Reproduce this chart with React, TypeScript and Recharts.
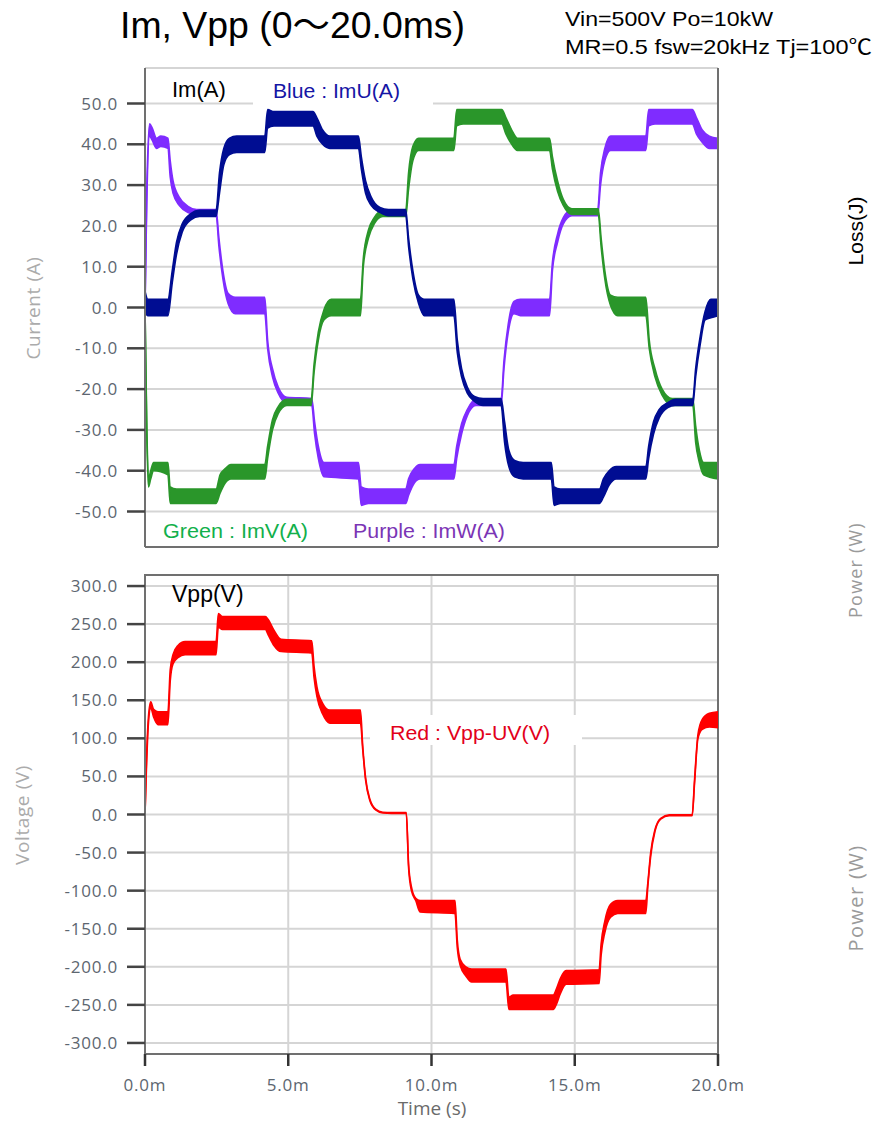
import {
  ComposedChart, Area, XAxis, YAxis, CartesianGrid, ReferenceLine, ReferenceArea,
} from 'recharts'

// each point: [time (ms), band low, band high] — the PWM ripple is drawn as a band
type Pt = [number, number, number]

const timeTicks = [0, 5, 10, 15, 20]
const currentTicks = [-50, -40, -30, -20, -10, 0, 10, 20, 30, 40, 50]
const voltageTicks = [-300, -250, -200, -150, -100, -50, 0, 50, 100, 150, 200, 250, 300]

// Blue : ImU(A)
const imU: Pt[] = [
  [0, -1, 4], [0.1, -2, 2], [0.8, -2, 2], [0.95, 6, 9], [1.1, 13, 16], [1.3, 18.5, 20.5],
  [1.6, 21.5, 23], [1.9, 22.3, 23.8], [2.48, 22.3, 23.8], [2.6, 28, 33], [2.75, 35, 39],
  [2.95, 37.5, 41.5], [3.2, 38, 42], [4.18, 38, 42], [4.28, 44, 48.5], [4.5, 44.5, 48],
  [5.86, 44.5, 48], [6.0, 42, 46.5], [6.2, 40, 43.5], [6.45, 39, 42], [7.45, 39, 42],
  [7.55, 34, 37], [7.7, 28, 31], [7.9, 25, 27], [8.2, 23.3, 24.5], [8.5, 22.5, 24],
  [9.1, 22.5, 24], [9.2, 15, 17], [9.35, 7, 9], [9.55, 1, 3], [9.75, -2, 2], [10.78, -2, 2],
  [10.9, -11, -8], [11.05, -17, -15], [11.25, -21, -19.5], [11.5, -23, -21.8],
  [11.8, -24, -22.3], [12.43, -24, -22.3], [12.55, -33, -28], [12.7, -39, -35],
  [12.9, -41.5, -37.5], [13.2, -42, -38], [14.18, -42, -38], [14.28, -48.5, -44],
  [14.5, -48, -44.5], [15.86, -48, -44.5], [16.0, -46.5, -42], [16.2, -43.5, -40],
  [16.45, -42, -39], [17.48, -42, -39], [17.58, -37, -34], [17.75, -31, -28],
  [17.95, -27, -25], [18.25, -24.5, -23.3], [18.5, -24, -22.5], [19.12, -24, -22.5],
  [19.22, -17, -15], [19.38, -9, -7], [19.55, -3, -1], [19.75, -2.5, 2], [20, -2, 2],
]

// Green : ImV(A)
const imV: Pt[] = [
  [0, 0, 0], [0.06, -30, -28], [0.12, -44, -42], [0.2, -42, -40], [0.3, -40, -38],
  [0.8, -41, -38], [0.88, -48, -44], [1.1, -48, -44.5], [2.48, -48, -44.5],
  [2.62, -45.5, -41], [2.8, -43, -39.5], [3.0, -42, -38.5], [4.18, -42, -38.5],
  [4.28, -37, -34], [4.45, -30, -27.5], [4.65, -26, -24.3], [4.95, -24, -22.5],
  [5.8, -24, -22.5], [5.9, -16, -14], [6.05, -8, -6], [6.25, -3, -0.5], [6.5, -2, 2],
  [7.52, -2, 2], [7.62, 10, 12], [7.8, 17, 19], [8.0, 20.5, 22], [8.3, 22.3, 23.8],
  [9.1, 22.3, 23.8], [9.2, 29, 33], [9.35, 36, 39.5], [9.55, 38.5, 41.5],
  [10.78, 38.5, 41.5], [10.88, 44.5, 48.5], [11.1, 45, 48.5], [12.45, 45, 48.5],
  [12.6, 42.5, 46.5], [12.8, 40, 43.5], [13.0, 38.5, 41.5], [14.12, 38.5, 41.5],
  [14.22, 34, 37], [14.4, 28.5, 31], [14.6, 25, 26.5], [14.9, 22.8, 24.2],
  [15.82, 22.8, 24.2], [15.92, 15, 17], [16.05, 7, 9], [16.25, 0.5, 3], [16.5, -2, 2.5],
  [17.48, -2, 2.5], [17.6, -10, -8], [17.8, -17, -15], [18.05, -21.5, -20],
  [18.4, -24, -22.3], [19.12, -24, -22.3], [19.22, -33, -29], [19.35, -38, -35],
  [19.5, -41, -38], [20, -42, -38],
]

// Purple : ImW(A)
const imW: Pt[] = [
  [0, 0, 0], [0.06, 25, 28], [0.16, 42, 45], [0.25, 41, 44], [0.4, 39, 41.5],
  [0.55, 39.5, 42], [0.8, 39, 41.5], [0.88, 32, 36], [0.98, 28, 31], [1.2, 25, 27],
  [1.5, 23.3, 24.8], [1.8, 22.8, 24], [2.48, 22.8, 24], [2.58, 15, 17], [2.72, 7, 9],
  [2.9, 1, 3.5], [3.15, -1.5, 2.5], [4.18, -1.5, 2.5], [4.28, -10, -8], [4.45, -17, -15],
  [4.65, -21, -19.5], [4.95, -23.5, -22], [5.82, -24, -22.3], [5.92, -31, -28],
  [6.05, -37, -34], [6.25, -41.5, -38], [7.45, -42, -38], [7.55, -48.5, -44],
  [7.8, -48, -44.5], [9.1, -48, -44.5], [9.2, -46, -42], [9.4, -43, -39.5],
  [9.6, -42, -38.5], [10.78, -42, -38.5], [10.88, -37, -34], [11.05, -31, -28.5],
  [11.25, -26.5, -25], [11.55, -24, -22.5], [12.43, -24, -22.5], [12.53, -15, -13],
  [12.68, -6, -4], [12.88, -1.5, 1.5], [13.1, -2, 2], [14.12, -2, 2], [14.22, 9, 11],
  [14.4, 16, 18], [14.6, 20.5, 22], [14.9, 22.5, 24], [15.8, 22.5, 24], [15.9, 30, 33],
  [16.05, 36, 39], [16.25, 38.5, 42], [17.48, 38.5, 42], [17.58, 44.5, 48.5],
  [17.8, 45, 48.5], [19.1, 45, 48.5], [19.25, 42.5, 46.5], [19.45, 40.5, 43.5],
  [19.7, 39, 42], [20, 39, 41.5],
]

// Red : Vpp-UV(V)
const vppUV: Pt[] = [
  [0, 0, 0], [0.05, 60, 70], [0.12, 120, 128], [0.2, 140, 148], [0.3, 128, 138],
  [0.45, 118, 135], [0.8, 118, 135], [0.88, 175, 190], [0.98, 198, 210], [1.15, 206, 222],
  [1.4, 210, 227], [2.48, 210, 227], [2.56, 246, 264], [2.7, 243, 260], [4.2, 243, 260],
  [4.3, 236, 256], [4.5, 222, 242], [4.75, 214, 230], [5.82, 212, 228], [5.9, 180, 195],
  [6.0, 155, 168], [6.2, 132, 146], [6.45, 120, 137], [7.52, 120, 137], [7.6, 85, 90],
  [7.7, 45, 48], [7.85, 18, 20], [8.05, 6, 7], [8.3, 2, 3], [8.6, 1.5, 2.5], [9.12, 1.5, 2.5],
  [9.2, -70, -65], [9.3, -100, -95], [9.45, -113, -110], [9.6, -128, -113],
  [10.82, -130, -113], [10.9, -175, -165], [11.0, -198, -190], [11.2, -212, -200],
  [11.4, -220, -203], [12.6, -220, -203], [12.7, -256, -240], [12.85, -256, -237],
  [14.25, -256, -237], [14.35, -250, -230], [14.5, -235, -215], [14.7, -223, -205],
  [15.85, -222, -204], [15.92, -185, -170], [16.05, -155, -140], [16.25, -135, -118],
  [16.5, -130, -113], [17.48, -130, -113], [17.55, -95, -90], [17.65, -55, -50],
  [17.8, -22, -20], [18.0, -6, -5], [18.3, -1.5, -0.5], [19.1, -1.5, -0.5],
  [19.18, 40, 45], [19.3, 100, 105], [19.45, 112, 125], [19.7, 115, 133], [20, 114, 135],
]

const rows = (pts: Pt[]) => pts.map(([t, lo, hi]) => ({ t, band: [lo, hi] }))

const SANS = "'Liberation Sans', Arial, 'Noto Sans CJK JP', sans-serif"
const TICK_FONT = "'Open Sans', 'DejaVu Sans', sans-serif"
const GRID = '#d5d5d5'
const FRAME = '#707070'

const yTick = { fill: '#5d6670', fontSize: 17, fontFamily: TICK_FONT, letterSpacing: 0.8 }
const yTickLine = { stroke: '#444', strokeWidth: 2.5 }
const oneDecimal = (v: number) => v.toFixed(1)

const bandProps = {
  dataKey: 'band',
  type: 'monotone' as const,
  strokeWidth: 1.6,
  fillOpacity: 1,
  isAnimationActive: false,
  dot: false,
  activeDot: false,
}

export default function App() {
  return (
    <div style={{ position: 'absolute', left: 0, top: 0, width: 877, height: 1121, background: '#fff', overflow: 'hidden' }}>
      {/* Im(A) */}
      <div style={{ position: 'absolute', left: 0, top: 0 }}>
        <ComposedChart width={877} height={560} margin={{ top: 68, right: 159, bottom: 12, left: 75 }}>
          <CartesianGrid stroke={GRID} strokeWidth={2} />
          <XAxis
            type="number" dataKey="t" domain={[0, 20]} ticks={timeTicks} interval={0}
            tick={false} tickLine={false} height={1}
            axisLine={{ stroke: FRAME, strokeWidth: 2 }}
          />
          <YAxis
            type="number" domain={[-58.7, 58.7]} ticks={currentTicks} interval={0}
            allowDataOverflow tickFormatter={oneDecimal} width={70}
            tick={yTick} tickSize={18} tickMargin={9} tickLine={yTickLine}
            axisLine={{ stroke: FRAME, strokeWidth: 2 }}
          />
          <ReferenceLine x={20} stroke={FRAME} strokeWidth={2} />
          <Area {...bandProps} data={rows(imW)} stroke="#7f2cff" fill="#7f2cff" />
          <Area {...bandProps} data={rows(imV)} stroke="#2a962a" fill="#2a962a" />
          <Area {...bandProps} data={rows(imU)} stroke="#000d92" fill="#000d92" />
        </ComposedChart>
      </div>

      {/* Vpp(V) */}
      <div style={{ position: 'absolute', left: 0, top: 560 }}>
        <ComposedChart width={877} height={561} margin={{ top: 15, right: 159, bottom: 20, left: 75 }}>
          <CartesianGrid stroke={GRID} strokeWidth={2} />
          <XAxis
            type="number" dataKey="t" domain={[0, 20]} ticks={timeTicks} interval={0}
            tickFormatter={(v: number) => `${v.toFixed(1)}m`} height={47}
            tick={{ fill: '#5d6670', fontSize: 17, fontFamily: TICK_FONT, letterSpacing: 0.8 }}
            tickSize={12} tickMargin={13} tickLine={{ stroke: '#333', strokeWidth: 2.5 }}
            axisLine={{ stroke: FRAME, strokeWidth: 2 }}
          />
          <YAxis
            type="number" domain={[-314.5, 314.5]} ticks={voltageTicks} interval={0}
            allowDataOverflow tickFormatter={oneDecimal} width={70}
            tick={yTick} tickSize={18} tickMargin={9} tickLine={yTickLine}
            axisLine={{ stroke: FRAME, strokeWidth: 2 }}
          />
          <ReferenceArea x1={0} x2={20} y1={-314.5} y2={314.5} fill="none" stroke={FRAME} strokeWidth={2} />
          <Area {...bandProps} data={rows(vppUV)} stroke="#ff0000" fill="#ff0000" />
        </ComposedChart>
      </div>

      {/* titles, axis titles and legends */}
      <svg width={877} height={1121} style={{ position: 'absolute', left: 0, top: 0, pointerEvents: 'none' }}>
        <text x={120} y={38} fontFamily={SANS} fontSize={36} fill="#000"
          textLength={345} lengthAdjust="spacingAndGlyphs">Im, Vpp (0～20.0ms)</text>
        <text x={565} y={26} fontFamily={SANS} fontSize={21} fill="#000"
          textLength={208} lengthAdjust="spacingAndGlyphs">Vin=500V Po=10kW</text>
        <text x={565} y={54} fontFamily={SANS} fontSize={21} fill="#000"
          textLength={307} lengthAdjust="spacingAndGlyphs">MR=0.5 fsw=20kHz Tj=100℃</text>

        <text x={172} y={97} fontFamily={SANS} fontSize={22} fill="#000">Im(A)</text>
        <rect x={253} y={72} width={180} height={33} fill="#fff" />
        <text x={273} y={98} fontFamily={SANS} fontSize={21} fill="#1515a5"
          textLength={127} lengthAdjust="spacingAndGlyphs">Blue : ImU(A)</text>

        <rect x={146} y={513} width={392} height={33} fill="#fff" />
        <text x={163} y={538} fontFamily={SANS} fontSize={21} fill="#12b04b"
          textLength={145} lengthAdjust="spacingAndGlyphs">Green : ImV(A)</text>
        <text x={353} y={538} fontFamily={SANS} fontSize={21} fill="#7b35b5"
          textLength={152} lengthAdjust="spacingAndGlyphs">Purple : ImW(A)</text>

        <text x={172} y={602} fontFamily={SANS} fontSize={23} fill="#000">Vpp(V)</text>
        <rect x={370} y={715} width={212} height={30} fill="#fff" />
        <text x={390} y={740} fontFamily={SANS} fontSize={21} fill="#e2001a"
          textLength={160} lengthAdjust="spacingAndGlyphs">Red : Vpp-UV(V)</text>

        <text x={33} y={308} transform="rotate(-90 33 308)" textAnchor="middle" dominantBaseline="central"
          fontFamily={TICK_FONT} fontSize={19} fill="#ababab" letterSpacing={0.6}>Current (A)</text>
        <text x={22} y={815} transform="rotate(-90 22 815)" textAnchor="middle" dominantBaseline="central"
          fontFamily={TICK_FONT} fontSize={19} fill="#ababab" letterSpacing={0.6}>Voltage (V)</text>
        <text x={432} y={1108} textAnchor="middle" dominantBaseline="central"
          fontFamily={TICK_FONT} fontSize={19} fill="#6a6a6a">Time (s)</text>

        <text x={855} y={231} transform="rotate(-90 855 231)" textAnchor="middle" dominantBaseline="central"
          fontFamily={SANS} fontSize={21} fill="#000">Loss(J)</text>
        <text x={855} y={570} transform="rotate(-90 855 570)" textAnchor="middle" dominantBaseline="central"
          fontFamily={TICK_FONT} fontSize={18} fill="#9a9a9a" letterSpacing={1.2}>Power (W)</text>
        <text x={855} y={898} transform="rotate(-90 855 898)" textAnchor="middle" dominantBaseline="central"
          fontFamily={TICK_FONT} fontSize={20} fill="#9a9a9a" letterSpacing={1.4}>Power (W)</text>
      </svg>
    </div>
  )
}
